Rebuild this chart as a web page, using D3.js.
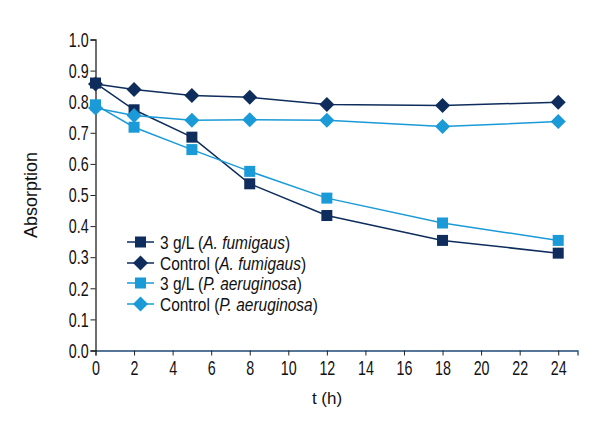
<!DOCTYPE html>
<html><head><meta charset="utf-8">
<script src="https://cdn.jsdelivr.net/npm/d3@7"></script>
<style>
body{margin:0;background:#fff;}
text{font-family:"Liberation Sans",Arial,sans-serif;}
</style></head>
<body><svg id="c" width="600" height="440"></svg>
<script>
const times = [0, 2, 5, 8, 12, 18, 24];
const seriesNames = ["3 g/L (", "Control (", "3 g/L (", "Control ("];
const seriesItalic = ["A. fumigaus", "A. fumigaus", "P. aeruginosa", "P. aeruginosa"];
const darkSquare = [0.86, 0.774, 0.686, 0.536, 0.434, 0.354, 0.313];
const darkDiamond = [0.857, 0.839, 0.82, 0.814, 0.791, 0.788, 0.798];
const lightSquare = [0.79, 0.718, 0.646, 0.576, 0.49, 0.41, 0.354];
const lightDiamond = [0.78, 0.756, 0.74, 0.742, 0.74, 0.72, 0.736];
const xTicks = [0, 2, 4, 6, 8, 10, 12, 14, 16, 18, 20, 22, 24];
const yTicks = [0, 0.1, 0.2, 0.3, 0.4, 0.5, 0.6, 0.7, 0.8, 0.9, 1.0];

const dark = "#0e2d5c", light = "#1a9ad7";
const series = [
  {vals: darkSquare, color: dark, shape: "square"},
  {vals: darkDiamond, color: dark, shape: "diamond"},
  {vals: lightSquare, color: light, shape: "square"},
  {vals: lightDiamond, color: light, shape: "diamond"}
];

const svg = d3.select("#c");
const x = d3.scaleLinear().domain([0, 25]).range([95.5, 577.5]);
const y = d3.scaleLinear().domain([0, 1]).range([350.5, 39.5]);

const xa = svg.append("g").attr("transform", `translate(0,${y(0)})`)
  .call(d3.axisBottom(x).tickValues(xTicks).tickSize(5).tickPadding(5).tickFormat(d3.format("d")));
xa.select(".domain").attr("stroke", "#1f4a78").attr("stroke-width", 1.3);
xa.selectAll(".tick line").attr("stroke", "#222");
xa.selectAll("text").attr("font-size", 21).attr("fill", "#111").attr("transform", "scale(0.68,1)");

const ya = svg.append("g").attr("transform", `translate(${x(0)},0)`)
  .call(d3.axisLeft(y).tickValues(yTicks).tickSize(5).tickPadding(5).tickFormat(d3.format(".1f")));
ya.select(".domain").attr("stroke", "#222").attr("stroke-width", 1.3);
ya.selectAll(".tick line").attr("stroke", "#222");
ya.selectAll("text").attr("font-size", 21).attr("fill", "#111").attr("transform", "scale(0.68,1)");

svg.append("text").attr("transform", `translate(37,${(y(0)+y(1))/2}) rotate(-90)`)
  .attr("text-anchor", "middle").attr("font-size", 18).attr("fill", "#111").text("Absorption");
svg.append("text").attr("x", 327).attr("y", 404).attr("text-anchor", "middle")
  .attr("font-size", 17).attr("fill", "#111").text("t (h)");

const line = d3.line().x((d, i) => x(times[i])).y(d => y(d));
function marker(g, shape, cx, cy, color) {
  if (shape === "square") {
    g.append("rect").attr("x", cx - 5.5).attr("y", cy - 5.5).attr("width", 11).attr("height", 11)
      .attr("fill", color);
  } else {
    const r = 7.5;
    g.append("path").attr("d", `M${cx},${cy - r}L${cx + r},${cy}L${cx},${cy + r}L${cx - r},${cy}Z`)
      .attr("fill", color);
  }
}
const plot = svg.append("g");
series.forEach(s => {
  plot.append("path").datum(s.vals).attr("d", line).attr("fill", "none")
    .attr("stroke", s.color).attr("stroke-width", 1.5);
});
series.forEach(s => {
  s.vals.forEach((v, i) => marker(plot, s.shape, x(times[i]), y(v), s.color));
});

const leg = svg.append("g");
const rowY = [242, 263, 283, 304];
series.forEach((s, i) => {
  const ry = rowY[i];
  leg.append("line").attr("x1", 127).attr("x2", 154).attr("y1", ry).attr("y2", ry)
    .attr("stroke", s.color).attr("stroke-width", 1.5);
  marker(leg, s.shape, 140.5, ry, s.color);
  const t = leg.append("text").attr("transform", `translate(160,${ry + 6.5}) scale(0.86,1)`)
    .attr("font-size", 18).attr("fill", "#111");
  t.append("tspan").text(seriesNames[i]);
  t.append("tspan").attr("font-style", "italic").text(seriesItalic[i]);
  t.append("tspan").text(")");
});
</script></body></html>
